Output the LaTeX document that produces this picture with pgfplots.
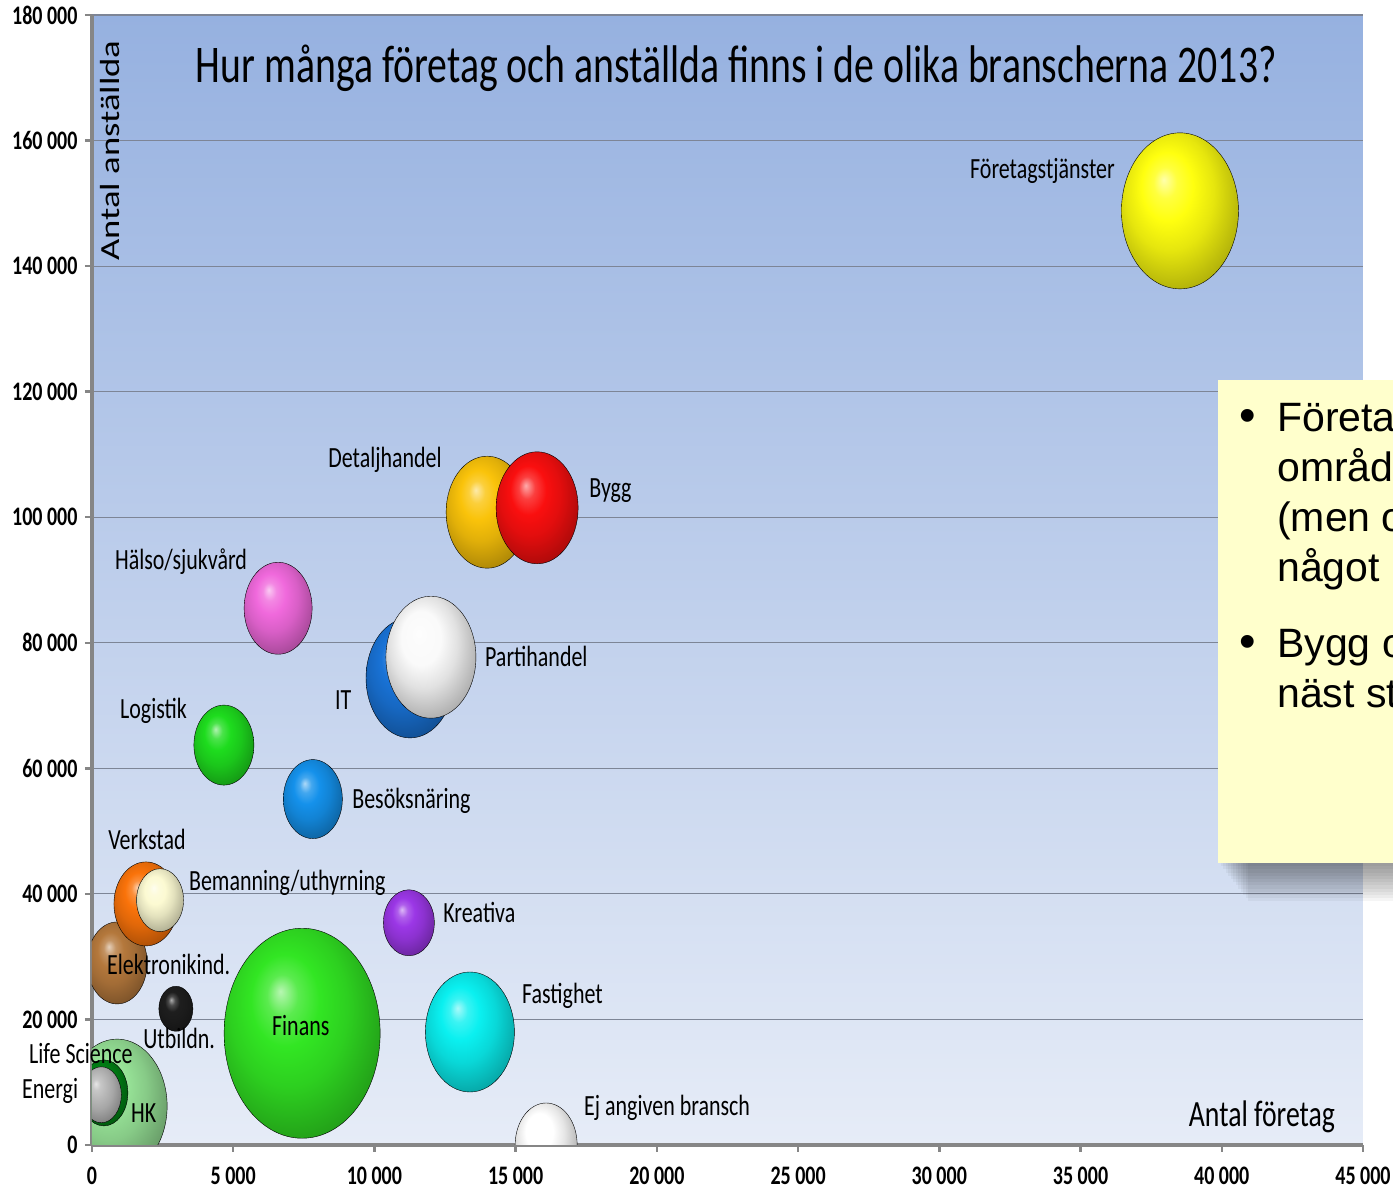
\documentclass[border=0pt]{standalone}
\usepackage{pgfplots}
\pgfplotsset{compat=1.18}
\usepackage{fontspec}
\setmainfont{Carlito}[FakeStretch=0.75]
\newfontfamily\rotfont{Carlito}[FakeStretch=1.33]
\newfontfamily\boxfont{Liberation Sans}
\definecolor{bgtop}{RGB}{150,177,224}
\definecolor{bgbot}{RGB}{230,236,247}
\definecolor{axisgray}{RGB}{134,134,134}
\definecolor{gridgray}{RGB}{125,133,150}
\definecolor{boxyellow}{RGB}{255,255,204}
\definecolor{cHK}{RGB}{150,225,150}
\definecolor{cLS}{RGB}{0,130,20}
\definecolor{cEn}{RGB}{185,185,185}
\definecolor{cEl}{RGB}{180,120,60}
\definecolor{cVe}{RGB}{250,115,10}
\definecolor{cBe}{RGB}{252,250,210}
\definecolor{cUt}{RGB}{30,30,30}
\definecolor{cFi}{RGB}{50,230,35}
\definecolor{cEj}{RGB}{255,255,255}
\definecolor{cFa}{RGB}{10,240,240}
\definecolor{cKr}{RGB}{155,55,230}
\definecolor{cBs}{RGB}{20,145,235}
\definecolor{cLo}{RGB}{30,220,30}
\definecolor{cHa}{RGB}{240,105,220}
\definecolor{cIT}{RGB}{25,115,215}
\definecolor{cPa}{RGB}{250,250,250}
\definecolor{cDe}{RGB}{250,195,10}
\definecolor{cBy}{RGB}{250,15,15}
\definecolor{cFt}{RGB}{255,255,15}
\makeatletter
\pgfdeclareradialshading[tikz@ball]{myball}{\pgfqpoint{-7bp}{10bp}}{%
 color(0bp)=(tikz@ball!35!white);
 color(5bp)=(tikz@ball!80!white);
 color(11bp)=(tikz@ball);
 color(19bp)=(tikz@ball!90!black);
 color(27bp)=(tikz@ball!75!black);
 color(36bp)=(tikz@ball!58!black);
 color(50bp)=(tikz@ball!40!black)}
\makeatother
\pgfplotsset{
  bubble/.style n args={3}{
    only marks, scatter, mark=*,
    scatter/@pre marker code/.code={\shade[ball color=#1, shading=myball] (0,0) ellipse [x radius=#2pt, y radius=#3pt];\scope[opacity=0]},
    scatter/@post marker code/.code={\endscope},
  },
}
\tikzset{lbl/.style={font=\fontsize{29.3}{30}\selectfont, inner sep=0pt, text=black}}
\begin{document}
\begin{tikzpicture}
\useasboundingbox (-92pt,-46pt) rectangle (1301pt,1145pt);
\clip (-92pt,-46pt) rectangle (1301pt,1145pt);
\begin{axis}[
  at={(0pt,0pt)}, anchor=south west,
  scale only axis, width=1271pt, height=1130pt,
  xmin=0, xmax=45000, ymin=0, ymax=180000,
  axis lines*=left,
  axis line style={draw=axisgray, line width=3.5pt},
  axis background/.style={shade, top color=bgtop, bottom color=bgbot},
  xtick={0,5000,...,45000},
  ytick={0,20000,...,180000},
  scaled x ticks=false, scaled y ticks=false,
  /pgf/number format/fixed,
  /pgf/number format/1000 sep={\,},
  /pgf/number format/assume math mode=true,
  ticklabel style={font=\bfseries\fontsize{26.7}{28}\selectfont, text=black},
  xticklabel style={yshift=-11pt},
  yticklabel style={xshift=-4pt},
  tick style={draw=axisgray, line width=2.5pt},
  major tick length=7pt,
  tick align=outside,
  ymajorgrids,
  major grid style={draw=gridgray, line width=1.2pt},
  clip mode=individual,
  clip marker paths=true,
]
\addplot[bubble={cHK}{50}{67}] coordinates {(890,6200)};
\addplot[bubble={cLS}{24}{33}] coordinates {(420,8300)};
\addplot[bubble={cEn}{20}{28}] coordinates {(330,8000)};
\addplot[bubble={cEl}{30}{41}] coordinates {(890,29000)};
\addplot[bubble={cVe}{32}{42}] coordinates {(1910,38400)};
\addplot[bubble={cBe}{23.5}{31.5}] coordinates {(2410,39000)};
\addplot[bubble={cUt}{17}{22.5}] coordinates {(2970,21700)};
\addplot[bubble={cFi}{78}{105}] coordinates {(7440,17800)};
\addplot[bubble={cEj}{31}{42}] coordinates {(16080,0)};
\addplot[bubble={cFa}{44.5}{60}] coordinates {(13380,18000)};
\addplot[bubble={cKr}{25.5}{33}] coordinates {(11220,35400)};
\addplot[bubble={cBs}{29.5}{39.5}] coordinates {(7820,55100)};
\addplot[bubble={cLo}{30}{40}] coordinates {(4670,63700)};
\addplot[bubble={cHa}{34}{46}] coordinates {(6590,85500)};
\addplot[bubble={cIT}{44}{60}] coordinates {(11260,74400)};
\addplot[bubble={cPa}{45}{61}] coordinates {(12000,77700)};
\addplot[bubble={cDe}{41}{56}] coordinates {(13990,100800)};
\addplot[bubble={cBy}{41}{56}] coordinates {(15760,101500)};
\addplot[bubble={cFt}{58.5}{78}] coordinates {(38520,148800)};

\node[lbl, anchor=east] at (axis cs:36220,155100) {Företagstjänster};
\node[lbl, anchor=west] at (axis cs:8360,109100) {Detaljhandel};
\node[lbl, anchor=west] at (axis cs:17600,104200) {Bygg};
\node[lbl, anchor=west] at (axis cs:810,93000) {Hälso/sjukvård};
\node[lbl, anchor=west] at (axis cs:13910,77900) {Partihandel};
\node[lbl, anchor=west] at (axis cs:8600,70900) {IT};
\node[lbl, anchor=west] at (axis cs:990,69100) {Logistik};
\node[lbl, anchor=west] at (axis cs:9210,54800) {Besöksnäring};
\node[lbl, anchor=west] at (axis cs:570,48600) {Verkstad};
\node[lbl, anchor=west] at (axis cs:3430,41700) {Bemanning/uthyrning};
\node[lbl, anchor=west] at (axis cs:12430,37100) {Kreativa};
\node[lbl, anchor=west] at (axis cs:530,28800) {Elektronikind.};
\node[lbl, anchor=west] at (axis cs:15220,23700) {Fastighet};
\node[lbl, anchor=west] at (axis cs:6370,19100) {Finans};
\node[lbl, anchor=west] at (axis cs:1810,16900) {Utbildn.};
\node[lbl, anchor=west] at (axis cs:-2230,14500) {Life Science};
\node[lbl, anchor=west] at (axis cs:-2480,8600) {Energi};
\node[lbl, anchor=west] at (axis cs:1380,5100) {HK};
\node[lbl, anchor=west] at (axis cs:17420,5900) {Ej angiven bransch};

\node[font=\fontsize{53}{56}\selectfont, inner sep=0pt] at (rel axis cs:0.507,0.953) {Hur många företag och anställda finns i de olika branscherna 2013?};
\node[rotate=90, font=\rotfont\fontsize{27.6}{28}\selectfont, inner sep=0pt] at (rel axis cs:0.0138,0.880) {Antal anställda};
\node[font=\fontsize{37}{38}\selectfont, inner sep=0pt] at (rel axis cs:0.9205,0.0248) {Antal företag};
\end{axis}
\foreach \k in {1,...,12} {
  \fill[black, opacity=0.04] (1126pt+2.5*\k pt, 282pt-3.2*\k pt) rectangle (1345pt, 700pt);
}
\fill[boxyellow] (1126pt,282pt) rectangle (1340pt,765pt);
\begin{scope}[every node/.style={font=\boxfont\fontsize{41}{41}\selectfont, inner sep=0pt}]
\node[anchor=base, scale=1.15] at (1156pt,713pt) {•};
\node[anchor=base west] at (1185pt,713pt) {Företagstjänster};
\node[anchor=base west] at (1185pt,663pt) {området};
\node[anchor=base west] at (1185pt,613pt) {(men också};
\node[anchor=base west] at (1185pt,563pt) {något};
\node[anchor=base, scale=1.15] at (1156pt,487pt) {•};
\node[anchor=base west] at (1185pt,487pt) {Bygg och};
\node[anchor=base west] at (1185pt,437pt) {näst störst};
\end{scope}
\end{tikzpicture}
\end{document}
